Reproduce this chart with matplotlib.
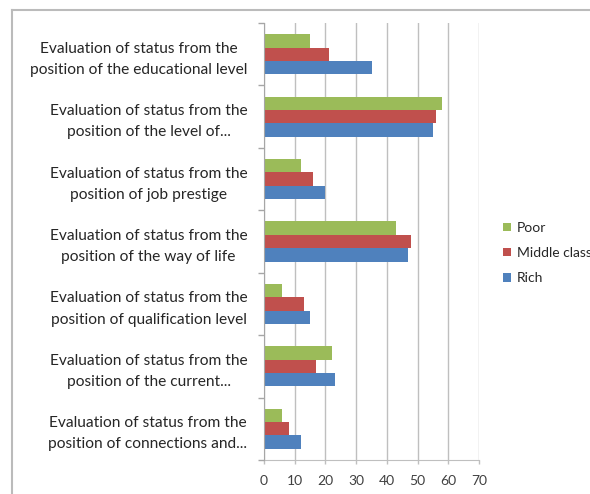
import numpy as np
import matplotlib
matplotlib.use("Agg")
import matplotlib.pyplot as plt
from matplotlib.lines import Line2D

categories = [
    "Evaluation of status from the\nposition of the educational level",
    "Evaluation of status from the\nposition of the level of...",
    "Evaluation of status from the\nposition of job prestige",
    "Evaluation of status from the\nposition of the way of life",
    "Evaluation of status from the\nposition of qualification level",
    "Evaluation of status from the\nposition of the current...",
    "Evaluation of status from the\nposition of connections and...",
]
poor = [15, 58, 12, 43, 6, 22, 6]
middle = [21, 56, 16, 48, 13, 17, 8]
rich = [35, 55, 20, 47, 15, 23, 12]
series_names = ["Poor", "Middle class", "Rich"]
x_ticks = [0, 10, 20, 30, 40, 50, 60, 70]

colors = ["#9BBB59", "#C0504D", "#4F81BD"]
plt.rcParams['font.family'] = ['Lato', 'DejaVu Sans']

W, H = 590, 494
fig = plt.figure(figsize=(W / 100, H / 100), dpi=100)
ax = fig.add_axes([264 / W, 1 - 460 / H, (479 - 264) / W, (460 - 23) / H])

y = np.arange(len(categories))
h = 0.214
for k, vals in enumerate([poor, middle, rich]):
    ax.barh(y + (k - 1) * h, vals, height=h, color=colors[k],
            label=series_names[k], zorder=3)

ax.set_ylim(len(categories) - 0.5, -0.5)
ax.set_xlim(0, 70)

ax.set_yticks(y)
ax.set_yticklabels(categories, multialignment='center', fontsize=11.2,
                   color='#262626', linespacing=1.65)
ax.set_yticks(np.arange(-0.5, len(categories)), minor=True)
ax.tick_params(axis='y', which='major', length=0, pad=12)
ax.tick_params(axis='y', which='minor', length=4.5, color='#A6A6A6',
               width=1, direction='out')

ax.set_xticks(x_ticks)
ax.tick_params(axis='x', length=3, color='#BFBFBF', width=1, pad=8,
               labelsize=10, labelcolor='#404040')
ax.grid(axis='x', color='#BFBFBF', linewidth=1, zorder=0)

for s in ['top', 'right']:
    ax.spines[s].set_visible(False)
ax.spines['left'].set_color('#A6A6A6')
ax.spines['bottom'].set_color('#BFBFBF')
ax.spines['left'].set_zorder(4)

ax.legend(loc='upper left', bbox_to_anchor=(503 / W, 1 - 222 / H),
          bbox_transform=fig.transFigure,
          frameon=False, fontsize=10, handlelength=0.55, handleheight=0.55,
          handletextpad=0.45, labelspacing=0.95, borderpad=0, borderaxespad=0,
          labelcolor='#262626')

# outer chart frame
fig.add_artist(Line2D([12 / W, 12 / W], [0, 1 - 10 / H], color='#BBBBBB',
                      linewidth=1.5, transform=fig.transFigure))
fig.add_artist(Line2D([12 / W, 1], [1 - 10 / H, 1 - 10 / H], color='#BBBBBB',
                      linewidth=1.5, transform=fig.transFigure))

fig.savefig("out.png", dpi=100)
